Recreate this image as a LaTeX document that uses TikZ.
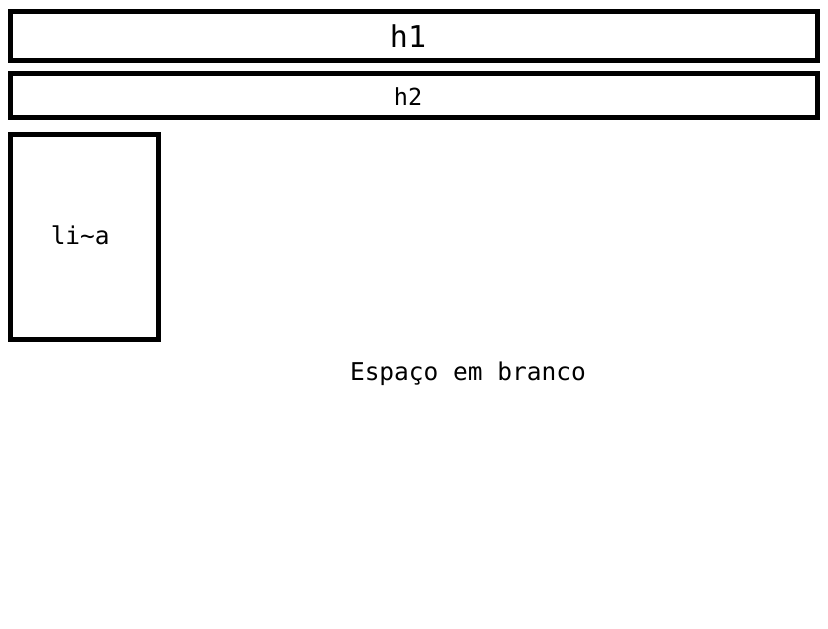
\documentclass[tikz,border=0pt]{standalone}
\usepackage{fontspec}
\setmonofont{DejaVu Sans Mono}
\usetikzlibrary{positioning}
\tikzstyle{block}=[rectangle,draw=black,line width=5pt,outer sep=0pt,font=\ttfamily]
\tikzstyle{plain}=[font=\ttfamily\fontsize{24.5}{28}\selectfont]

\begin{document}
\begin{tikzpicture}[x=1pt,y=-1pt,node distance=13pt]
	\useasboundingbox (0,0) rectangle (828,629);
	% header blocks
	\node [block,minimum width=807pt,minimum height=49pt,
	       label={[font=\ttfamily\fontsize{30}{34}\selectfont,xshift=-6pt]center:h1}] (h1) at (414,36) {};
	\node [block,minimum width=807pt,minimum height=43.5pt,
	       label={[font=\ttfamily\fontsize{23.5}{27}\selectfont,xshift=-6pt,yshift=-1pt]center:h2}] (h2) [below=of h1] {};
	% side block
	\node [block,minimum width=147.5pt,minimum height=205pt,
	       label={[plain,xshift=-4pt,yshift=2pt]center:li\textasciitilde a}] (lia) [below=17.5pt of h2.south west,anchor=north west] {};

	\node [plain] (vazio) at (468,374) {Espaço em branco};
\end{tikzpicture}
\end{document}
